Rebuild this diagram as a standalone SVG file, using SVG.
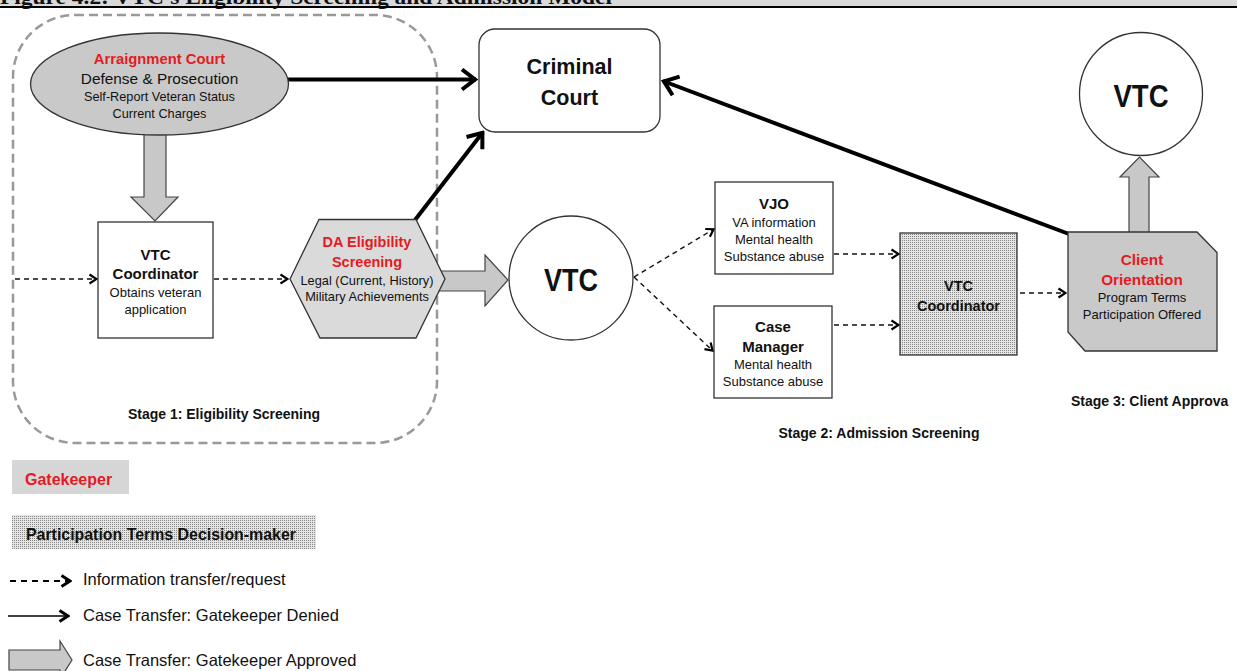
<svg xmlns="http://www.w3.org/2000/svg" width="1237" height="671" viewBox="0 0 1237 671">
<style>
text{font-family:"Liberation Sans",Arial,sans-serif;fill:#111;text-anchor:middle}
.b{font-weight:bold}
.red{fill:#e31b23;font-weight:bold}
.node{stroke:#333;stroke-width:1.3}
.gray{fill:#c9c9c9}
.lgray{fill:#dadada}
.white{fill:#fff}
.blk{fill:#c8c8c8;stroke:#444;stroke-width:1.2}
.dash{fill:none;stroke:#111;stroke-width:1.4;stroke-dasharray:5,4;marker-end:url(#mDash)}
.solid{fill:none;stroke:#000;stroke-width:4;marker-end:url(#mSolid)}
.lt{text-anchor:start;font-size:16.5px}
</style>
<defs>
<marker id="mDash" viewBox="0 0 10 12" refX="9" refY="6" markerWidth="10" markerHeight="12" markerUnits="userSpaceOnUse" orient="auto">
<path d="M1.5,1.5 L8.5,6 L1.5,10.5" fill="none" stroke="#000" stroke-width="2.2"/>
</marker>
<marker id="mDashL" viewBox="0 0 12 14" refX="11" refY="7" markerWidth="12" markerHeight="14" markerUnits="userSpaceOnUse" orient="auto">
<path d="M1.5,1.5 L10,7 L1.5,12.5" fill="none" stroke="#000" stroke-width="3"/>
</marker>
<marker id="mSolid" viewBox="0 0 18 24" refX="16" refY="12" markerWidth="18" markerHeight="24" markerUnits="userSpaceOnUse" orient="auto">
<path d="M2,2 L15,12 L2,22" fill="none" stroke="#000" stroke-width="4"/>
</marker>
<pattern id="dots" width="2" height="2" patternUnits="userSpaceOnUse">
<rect width="2" height="2" fill="#e4e4e4"/>
<rect width="1" height="1" fill="#8a8a8a"/>
</pattern>
</defs>

<!-- title (clipped at top, as in the reference) -->
<g id="title">
<rect x="0" y="0" width="1237" height="6" fill="#d9d9d9"/>
<text x="0" y="4" style="font-family:'Liberation Serif','Times New Roman',serif;font-weight:bold;font-size:20px;text-anchor:start" textLength="612" lengthAdjust="spacingAndGlyphs">Figure 4.2: VTC's Eligibility Screening and Admission Model</text>
<line x1="0" y1="7" x2="1237" y2="7" stroke="#000" stroke-width="2"/>
</g>

<!-- stage 1 container -->
<g id="stage1">
<rect x="13" y="15" width="424" height="428" rx="62" ry="62" fill="none" stroke="#999" stroke-width="2.5" stroke-dasharray="9,5"/>
<text class="b" x="224" y="419" style="font-size:14px">Stage 1: Eligibility Screening</text>
</g>

<!-- connectors -->
<g id="connectors">
<polygon class="blk" points="144,130 166,130 166,197 178,197 155,221 131,197 144,197"/>
<polygon class="blk" points="430,271 485,271 485,255 508,280 485,306 485,291 430,291"/>
<polygon class="blk" points="1129,236 1129,177 1120,177 1139.5,157 1159,177 1149,177 1149,236"/>
<line class="solid" x1="286" y1="79.5" x2="476" y2="79.5"/>
<line class="solid" x1="415" y1="220" x2="483" y2="132"/>
<line class="solid" x1="1069" y1="234" x2="663" y2="81"/>
<line class="dash" x1="15" y1="279" x2="97" y2="279"/>
<line class="dash" x1="214" y1="279" x2="288" y2="279"/>
<line class="dash" x1="634" y1="277" x2="714" y2="229"/>
<line class="dash" x1="634" y1="277" x2="713" y2="351"/>
<line class="dash" x1="834" y1="254" x2="899" y2="254"/>
<line class="dash" x1="834" y1="325" x2="899" y2="325"/>
<line class="dash" x1="1020" y1="293" x2="1066" y2="293"/>
</g>

<g id="arraignment">
<ellipse class="node gray" cx="159.5" cy="84" rx="129" ry="51"/>
<text class="red" x="159.5" y="64" style="font-size:14.8px">Arraignment Court</text>
<text x="159.5" y="84" style="font-size:15.4px">Defense &amp; Prosecution</text>
<text x="159.5" y="101" style="font-size:12.7px">Self-Report Veteran Status</text>
<text x="159.5" y="118" style="font-size:12.7px">Current Charges</text>
</g>

<g id="vtc-coordinator-1">
<rect class="node white" x="98" y="222" width="115" height="116"/>
<text class="b" x="155.5" y="260" style="font-size:15px">VTC</text>
<text class="b" x="155.5" y="279" style="font-size:15px">Coordinator</text>
<text x="155.5" y="297" style="font-size:13px">Obtains veteran</text>
<text x="155.5" y="314" style="font-size:13px">application</text>
</g>

<g id="da-screening">
<polygon class="node lgray" points="290,279 319,219.5 416,219.5 445,279 416,338 320,338"/>
<text class="red" x="367" y="247" style="font-size:14.5px">DA Eligibility</text>
<text class="red" x="367" y="267" style="font-size:14.5px">Screening</text>
<text x="367" y="285" style="font-size:12.8px">Legal (Current, History)</text>
<text x="367" y="301" style="font-size:12.8px">Military Achievements</text>
</g>

<g id="criminal-court">
<rect class="node white" x="479" y="29" width="181" height="103" rx="16" ry="16"/>
<text class="b" x="569.5" y="74" style="font-size:21.5px">Criminal</text>
<text class="b" x="569.5" y="105" style="font-size:21.5px">Court</text>
</g>

<g id="vtc-circle-1">
<circle class="node white" cx="571" cy="278" r="62"/>
<text class="b" x="571" y="291" style="font-size:32px" textLength="54" lengthAdjust="spacingAndGlyphs">VTC</text>
</g>

<g id="vjo">
<rect class="node white" x="715" y="182" width="118" height="92"/>
<text class="b" x="774" y="209" style="font-size:15px">VJO</text>
<text x="774" y="227" style="font-size:13px">VA information</text>
<text x="774" y="244" style="font-size:13px">Mental health</text>
<text x="774" y="261" style="font-size:13px">Substance abuse</text>
</g>

<g id="case-manager">
<rect class="node white" x="714" y="306" width="118" height="92"/>
<text class="b" x="773" y="332" style="font-size:15px">Case</text>
<text class="b" x="773" y="352" style="font-size:15px">Manager</text>
<text x="773" y="369" style="font-size:13px">Mental health</text>
<text x="773" y="386" style="font-size:13px">Substance abuse</text>
</g>

<g id="vtc-coordinator-2">
<rect class="node" x="900" y="233" width="117" height="122" fill="url(#dots)"/>
<text class="b" x="958.5" y="291" style="font-size:14.5px">VTC</text>
<text class="b" x="958.5" y="311" style="font-size:14.5px">Coordinator</text>
</g>

<g id="client-orientation">
<polygon class="node gray" points="1068,232 1197,232 1217,252.5 1217,351 1085,351 1068,332"/>
<text class="red" x="1142" y="265" style="font-size:15.3px">Client</text>
<text class="red" x="1142" y="285" style="font-size:15.3px">Orientation</text>
<text x="1142" y="302" style="font-size:13px">Program Terms</text>
<text x="1142" y="319" style="font-size:13px">Participation Offered</text>
</g>

<g id="vtc-circle-2">
<circle class="node white" cx="1141" cy="94" r="61.5"/>
<text class="b" x="1141" y="107" style="font-size:32px" textLength="55" lengthAdjust="spacingAndGlyphs">VTC</text>
</g>

<g id="stage-labels">
<text class="b" x="879" y="438" style="font-size:14px">Stage 2: Admission Screening</text>
<text class="b" x="1071" y="406" style="font-size:14px;text-anchor:start">Stage 3: Client Approva</text>
</g>

<g id="legend">
<rect x="12" y="460" width="117" height="34" fill="#d6d6d6"/>
<text class="red" x="25" y="485" style="font-size:16px;text-anchor:start">Gatekeeper</text>
<rect x="12" y="515" width="304" height="34" fill="url(#dots)"/>
<text class="b" x="26" y="540" style="font-size:15.9px;text-anchor:start">Participation Terms Decision-maker</text>
<line x1="10" y1="581" x2="71" y2="581" stroke="#000" stroke-width="2" stroke-dasharray="6,5" marker-end="url(#mDashL)"/>
<text class="lt" x="83" y="585">Information transfer/request</text>
<line x1="8" y1="616" x2="69" y2="616" stroke="#000" stroke-width="1.6" marker-end="url(#mDashL)"/>
<text class="lt" x="83" y="621">Case Transfer: Gatekeeper Denied</text>
<polygon class="blk" points="9,650 60,650 60,641 72,660 60,679 60,670 9,670"/>
<text class="lt" x="83" y="666">Case Transfer: Gatekeeper Approved</text>
</g>
</svg>
